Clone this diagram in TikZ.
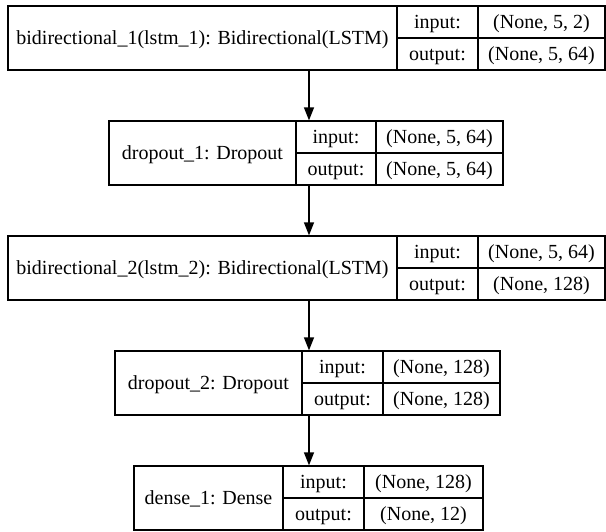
\documentclass[tikz,border=0pt]{standalone}
\usepackage{fontspec}
\setmainfont{Liberation Serif}
\usetikzlibrary{arrows.meta}
\tikzset{
  cell/.style={draw=black, line width=1.2pt, rectangle, inner sep=0pt,
    font=\fontsize{20}{24}\selectfont, text height=12.5pt, text depth=0pt},
  flow/.style={draw=black, line width=1.2pt, -{Triangle[length=13pt,width=10pt]}},
}
% name, x0, x1, x2, x3, ytop, label, input value, output value
\newcommand{\kerlayer}[9]{%
  \node[cell, minimum width={(#3-#2)*1pt}, minimum height=64pt] (#1) at ({(#2+#3)/2},{#6+32}) {#7};
  \node[cell, minimum width={(#4-#3)*1pt}, minimum height=32pt] (#1in) at ({(#3+#4)/2},{#6+16}) {input:};
  \node[cell, minimum width={(#4-#3)*1pt}, minimum height=32pt] (#1out) at ({(#3+#4)/2},{#6+48}) {output:};
  \node[cell, minimum width={(#5-#4)*1pt}, minimum height=32pt] (#1inv) at ({(#4+#5)/2},{#6+16}) {#8};
  \node[cell, minimum width={(#5-#4)*1pt}, minimum height=32pt] (#1outv) at ({(#4+#5)/2},{#6+48}) {#9};
}
\begin{document}
\begin{tikzpicture}[x=1pt, y=-1pt]
  \useasboundingbox[fill=white] (0,0) rectangle (606,531);
  \kerlayer{L1}{8}{397}{478}{605}{6}{bidirectional\_1(lstm\_1): Bidirectional(LSTM)}{(None, 5, 2)}{(None, 5, 64)}
  \kerlayer{L2}{109}{296}{376}{503}{121}{dropout\_1: Dropout}{(None, 5, 64)}{(None, 5, 64)}
  \kerlayer{L3}{8}{397}{478}{605}{236}{bidirectional\_2(lstm\_2): Bidirectional(LSTM)}{(None, 5, 64)}{(None, 128)}
  \kerlayer{L4}{115}{302}{383}{500}{351}{dropout\_2: Dropout}{(None, 128)}{(None, 128)}
  \kerlayer{L5}{134}{283}{364}{483}{466}{dense\_1: Dense}{(None, 128)}{(None, 12)}
  \coordinate (ax) at (309,0);
  \draw[flow] (L1.south -| ax) -- (L2.north -| ax);
  \draw[flow] (L2.south -| ax) -- (L3.north -| ax);
  \draw[flow] (L3.south -| ax) -- (L4.north -| ax);
  \draw[flow] (L4.south -| ax) -- (L5.north -| ax);
\end{tikzpicture}
\end{document}
